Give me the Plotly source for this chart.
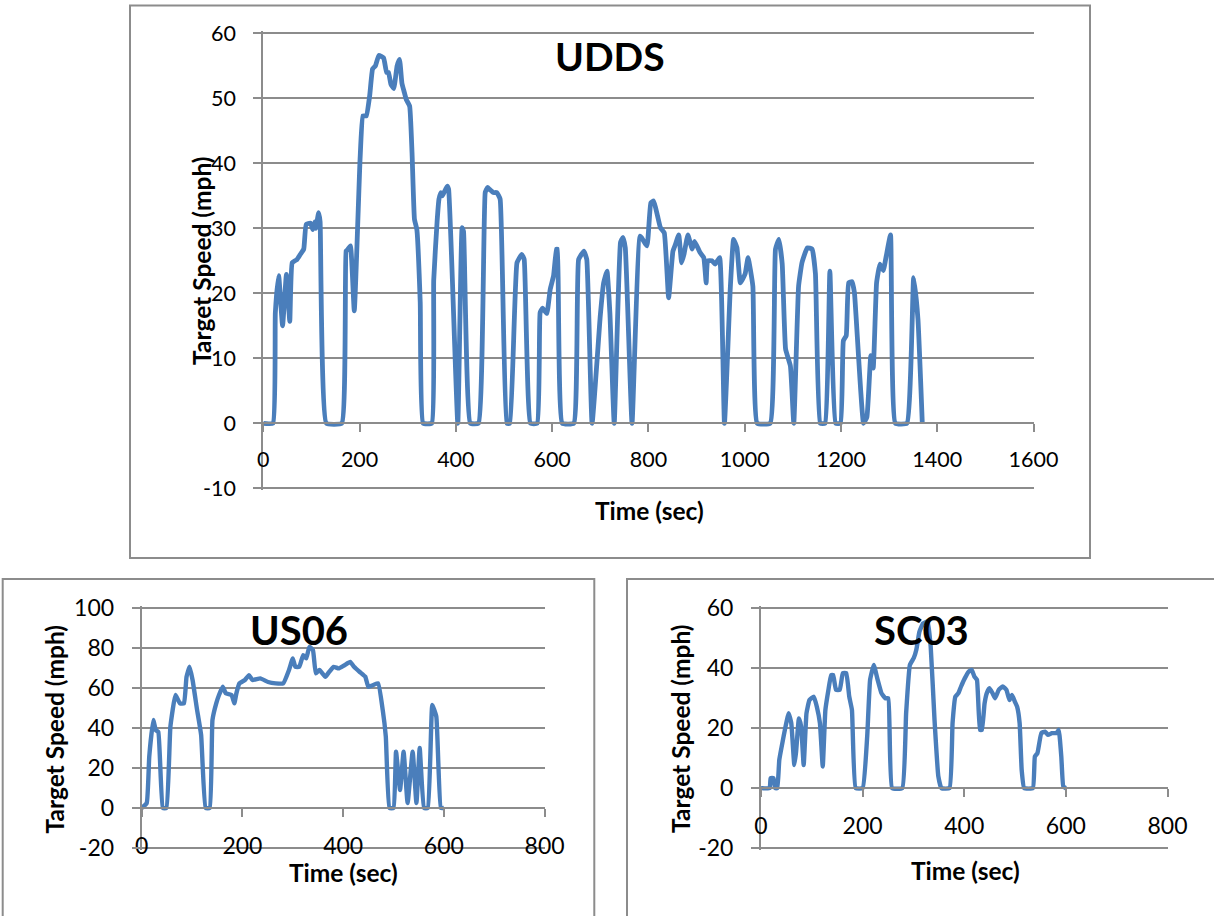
import plotly.graph_objects as go

# ---------------- data ----------------
udds_t = [0, 20, 25, 32, 40, 48, 55, 60, 70, 77, 84, 89, 98, 103, 107, 109, 115, 118, 131, 163,
          172, 175, 181, 189, 201, 207, 214, 221, 227, 233, 240, 250, 256, 260, 265, 271, 278, 283,
          288, 293, 297, 304, 309, 314, 319, 326, 332, 350, 354, 361, 365, 369, 372, 382, 385, 404,
          413, 416, 430, 447, 461, 466, 470, 478, 485, 492, 506, 512, 527, 537, 542, 555, 569, 575,
          580, 589, 596, 603, 609, 611, 621, 645, 655, 666, 672, 683, 700, 707, 714, 720, 729, 742,
          747, 752, 766, 783, 797, 805, 811, 819, 825, 833, 842, 851, 856, 863, 869, 874, 882, 891,
          896, 907, 915, 920, 923, 932, 939, 948, 958, 970, 977, 984, 991, 1001, 1007, 1017, 1026,
          1053, 1064, 1071, 1078, 1085, 1095, 1102, 1112, 1119, 1130, 1140, 1147, 1157, 1167, 1177,
          1189, 1199, 1205, 1211, 1216, 1223, 1228, 1247, 1254, 1262, 1267, 1274, 1281, 1288, 1294,
          1303, 1313, 1337, 1351, 1360, 1369]
udds_v = [0, 0, 17, 22.7, 15, 22.9, 15.7, 24.7, 25.2, 26, 26.8, 30.6, 30.8, 29.8, 31, 30, 32.4, 31, 0, 0,
          26.5, 26.7, 27.3, 17.3, 40.6, 47.3, 47.3, 50.4, 54.5, 55, 56.6, 56.2, 54, 54, 52.2, 51.5, 55, 56,
          52.3, 50.9, 49.8, 48.8, 41.6, 31.4, 29.8, 18.6, 0, 0, 22, 31, 34.5, 35.5, 35, 36.5, 36, 0,
          30.1, 29.5, 0, 0, 35.5, 36.3, 36, 35.5, 35.5, 34.5, 0, 0, 24.7, 26, 25.2, 0, 0, 17,
          17.7, 16.9, 20.6, 22.7, 26.8, 26.8, 0, 0, 25.2, 26.5, 25.2, 0, 16.5, 21.6, 23.4, 17, 0, 27.8,
          28.6, 27, 0, 28.8, 27.3, 33.9, 34.2, 31.9, 30.1, 29.3, 19.3, 26.5, 27.5, 29, 24.7, 26, 29, 26.8,
          28, 26.3, 25.5, 21.6, 25, 25, 24.5, 25.5, 0, 20.6, 28.3, 27, 21.6, 23, 25.5, 21.1, 0,
          0, 26.8, 28.3, 24.5, 11.4, 8.8, 0, 21.1, 24.7, 27, 26.8, 23, 0, 0, 23.4,
          0, 0, 12.7, 13.5, 21.6, 21.8, 20.1, 0, 1, 10.4, 8.5, 21.6, 24.5, 23.5, 25.7,
          29, 0, 0, 22.4, 16, 0]

us06_t = [0, 10, 15, 23, 28, 33, 42, 49, 57, 67, 76, 84, 89, 95, 101, 110, 118, 127, 135, 140.5,
          148, 153.5, 161, 167, 178.5, 184, 188, 194, 205, 213, 220, 235.5, 251, 266, 281, 292.5,
          300, 305, 313, 320.6, 326.7, 333, 340, 345.7, 353, 364.6, 372, 381, 391, 402.6, 414,
          421.6, 433, 444, 450, 459.6, 469.5, 478.6, 484.7, 492, 500, 505, 513, 520, 528, 538,
          545.5, 552, 560.7, 568, 577, 585, 594, 600]
us06_v = [0, 2.5, 25.7, 44, 39, 38, 0, 0, 40.7, 56.5, 52.3, 52.3, 65.6, 70.6, 64, 49, 36.5, 0, 0, 44,
          52.3, 56.5, 60.6, 57.3, 56.5, 52.3, 57.3, 62.3, 64, 66.4, 64, 64.8, 63, 62.3, 62.3, 69,
          74.8, 70.6, 70.6, 76.4, 74.8, 80.6, 79, 67.3, 69, 65.6, 68, 70.6, 69.8, 71.4, 73,
          70.6, 68, 65.6, 60.6, 61.5, 62.3, 49, 35.7, 0, 0, 28.2, 9, 28.2, 2.5, 28.2,
          2.5, 30, 0, 0, 51.5, 45.7, 0, 0]

sc03_t = [0, 17, 19, 24.6, 28, 32, 36, 42, 47, 54.4, 59.6, 65.6, 69, 74.6, 79, 84, 89.5, 95.4, 104,
          110, 116, 121.5, 126.7, 132.7, 138, 142, 147.6, 155, 161, 167.8, 173.7, 179, 186.4, 200,
          209, 214.7, 222, 229.6, 237, 244.6, 250.5, 258, 278, 285.6, 293, 300.5, 305.7, 311.7, 319,
          328, 334, 341.5, 349, 355, 371, 377, 382.5, 388.5, 393.7, 401, 408.6, 414.5, 420, 425,
          431, 434.7, 440, 444.4, 449.6, 455.6, 460.8, 468, 475.7, 483, 489, 494, 499.5, 504, 509,
          513, 518, 535, 539, 544, 551.7, 559, 565, 572.6, 581.6, 586, 591, 595, 600]
sc03_v = [0, 0, 3.3, 3.3, 0, 0, 9.4, 15, 19.4, 24.9, 21.6, 7.7, 12, 23.2, 20.5, 7.7, 24.9, 29.3, 30.4,
          27, 21.6, 7.2, 26, 32.7, 37.6, 37.6, 32.7, 32.7, 38.2, 38.2, 30.4, 26, 0, 0,
          17.2, 36, 41, 36, 31.6, 29.9, 29.9, 0, 0, 24.9, 41, 43.2, 46, 52, 54.8,
          55.4, 47, 22.7, 3.9, 0, 0, 21.6, 30.4, 31.6, 33.8, 36.5, 38.7, 39.3, 37.1, 36,
          19.4, 19.4, 28.2, 31.6, 33.2, 31.6, 29.9, 32.7, 33.8, 32.7, 29.3, 31, 28.8, 27.1, 21.6,
          6.1, 0, 0, 10.5, 11.6, 18.3, 18.8, 17.7, 18.3, 18.3, 19.4, 10.5, 0.5, 0]

titles = ["UDDS", "US06", "SC03"]
x_title = "Time (sec)"
y_title = "Target Speed (mph)"
x_ticks = [0, 200, 400, 600, 800, 1000, 1200, 1400, 1600]
y_ticks_udds = [-10, 0, 10, 20, 30, 40, 50, 60]
y_ticks_us06 = [-20, 0, 20, 40, 60, 80, 100]
y_ticks_sc03 = [-20, 0, 20, 40, 60]

# ---------------- layout helpers (positions in screen pixels) ----------------
W, H = 1214, 916
def fx(p):
    return p / W
def fy(p):
    return 1 - p / H

BLUE = "#4A7EBB"
GRID = "#8C8C8C"
BORDER = "#8C8C8C"
FONT = "Lato"

fig = go.Figure()
LINE_SHAPE = dict(shape="spline", smoothing=0.35)
fig.add_trace(go.Scatter(x=udds_t, y=udds_v, mode="lines", xaxis="x", yaxis="y",
                         line=dict(color=BLUE, width=4.8, **LINE_SHAPE), hoverinfo="skip"))
fig.add_trace(go.Scatter(x=us06_t, y=us06_v, mode="lines", xaxis="x2", yaxis="y2",
                         line=dict(color=BLUE, width=4.4, **LINE_SHAPE), hoverinfo="skip"))
fig.add_trace(go.Scatter(x=sc03_t, y=sc03_v, mode="lines", xaxis="x3", yaxis="y3",
                         line=dict(color=BLUE, width=4.4, **LINE_SHAPE), hoverinfo="skip"))

def xax(domain, pos, rng, size):
    vals = [v for v in x_ticks if rng[0] <= v <= rng[1]]
    return dict(domain=domain, anchor="free", position=pos, range=rng,
                tickmode="array", tickvals=vals, ticktext=[str(v) for v in vals],
                showgrid=False, zeroline=False, showline=True, linecolor=GRID, linewidth=2,
                ticks="outside", ticklen=8, tickwidth=2, tickcolor=GRID,
                tickfont=dict(family=FONT, size=size, color="#000000"),
                ticklabelstandoff=9, automargin=False, fixedrange=True)

def yax(top_px, bot_px, anchor, rng, ticks, size):
    # extend range and domain by 2 px each way so end gridlines are drawn
    padpx = 2.0
    per_px = (rng[1] - rng[0]) / (bot_px - top_px)
    return dict(domain=[fy(bot_px + padpx), fy(top_px - padpx)], anchor=anchor,
                range=[rng[0] - padpx * per_px, rng[1] + padpx * per_px],
                tickmode="array", tickvals=ticks, ticktext=[str(v) for v in ticks],
                showgrid=True, gridcolor=GRID, gridwidth=2, zeroline=False,
                showline=True, linecolor=GRID, linewidth=2,
                ticks="outside", ticklen=8, tickwidth=2, tickcolor=GRID,
                tickfont=dict(family=FONT, size=size, color="#000000"),
                ticklabelstandoff=13, automargin=False, fixedrange=True)

fig.update_layout(
    width=W, height=H, autosize=False,
    margin=dict(l=0, r=0, t=0, b=0, pad=0, autoexpand=False),
    paper_bgcolor="white", plot_bgcolor="white",
    showlegend=False,
    xaxis=xax([fx(263.3), fx(1033.5)], fy(423.3), [0, 1600], 21.5),
    yaxis=yax(33.3, 488.3, "x", [-10, 60], y_ticks_udds, 21.5),
    xaxis2=xax([fx(141.7), fx(544.6)], fy(808), [0, 800], 23),
    yaxis2=yax(608, 848, "x2", [-20, 100], y_ticks_us06, 23),
    xaxis3=xax([fx(761), fx(1167.5)], fy(788.2), [0, 800], 23),
    yaxis3=yax(607.7, 848.3, "x3", [-20, 60], y_ticks_sc03, 23),
)

shapes = []
for (x0, y0, x1, y1) in [(130, 5.5, 1090, 558), (2.7, 579, 594.3, 940), (627, 579, 1240, 940)]:
    shapes.append(dict(type="rect", xref="paper", yref="paper",
                       x0=fx(x0), x1=fx(x1), y0=fy(y1), y1=fy(y0),
                       line=dict(color=BORDER, width=2), fillcolor="rgba(0,0,0,0)", layer="below"))
fig.update_layout(shapes=shapes)

ann = []
def add_text(txt, x, y, size, angle=0):
    ann.append(dict(text="<b>%s</b>" % txt, x=fx(x), y=fy(y), xref="paper", yref="paper",
                    xanchor="center", yanchor="middle", showarrow=False, textangle=angle,
                    font=dict(family=FONT, size=size, color="#000000")))

add_text(titles[0], 610, 56, 39)
add_text(titles[1], 299, 630, 40)
add_text(titles[2], 921, 630, 40)
add_text(x_title, 649, 510, 24.5)
add_text(x_title, 343, 872, 24.5)
add_text(x_title, 965, 870, 24.5)
add_text(y_title, 201, 261, 24.5, -90)
add_text(y_title, 53.5, 729, 24.5, -90)
add_text(y_title, 680, 729, 24.5, -90)
fig.update_layout(annotations=ann)

fig.write_html("out.html",
               config={"displayModeBar": False, "staticPlot": True},
               post_script="document.body.style.margin='0';document.body.style.overflow='hidden';")
